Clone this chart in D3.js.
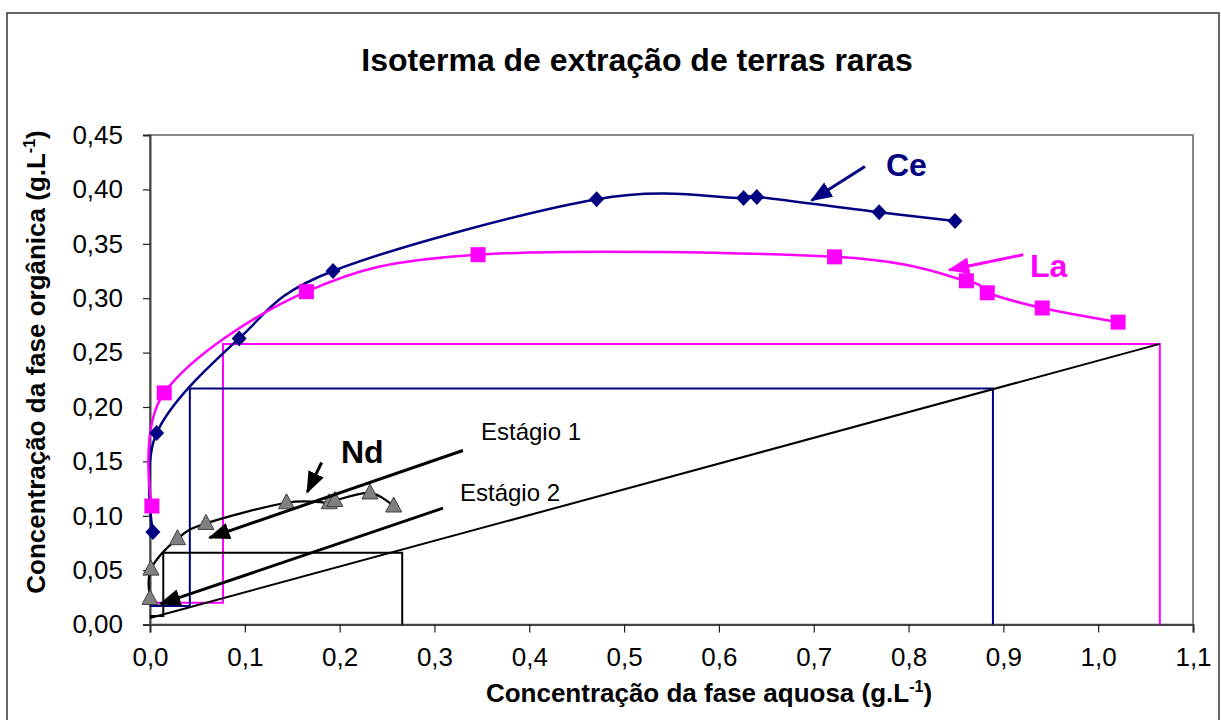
<!DOCTYPE html>
<html><head><meta charset="utf-8">
<script src="https://cdn.jsdelivr.net/npm/d3@7"></script>
<style>body{margin:0;background:#fff}svg{display:block}text{font-family:"Liberation Sans",Arial,sans-serif}</style>
</head><body>
<svg id="c" width="1221" height="720"></svg>
<script>
// ---- data ----
const ceX = [0.003, 0.007, 0.094, 0.193, 0.471, 0.626, 0.640, 0.769, 0.849];
const ceY = [0.085, 0.176, 0.263, 0.325, 0.391, 0.392, 0.393, 0.379, 0.371];
const laX = [0.002, 0.015, 0.165, 0.346, 0.722, 0.861, 0.883, 0.941, 1.021];
const laY = [0.109, 0.213, 0.306, 0.340, 0.338, 0.316, 0.305, 0.291, 0.278];
const ndX = [0.000, 0.001, 0.029, 0.059, 0.144, 0.189, 0.195, 0.232, 0.257];
const ndY = [0.024, 0.051, 0.079, 0.093, 0.112, 0.112, 0.114, 0.121, 0.109];
// operating line
const opX = [0.000, 1.065];
const opY = [0.006, 0.258];
// McCabe-Thiele stage steps
const laStepX = [1.065, 1.065, 0.077, 0.077, 0.000];
const laStepY = [0.000, 0.258, 0.258, 0.020, 0.020];
const ceStepX = [0.889, 0.889, 0.042, 0.042, 0.000];
const ceStepY = [0.000, 0.217, 0.217, 0.017, 0.017];
const ndStepX = [0.266, 0.266, 0.014, 0.014, 0.000];
const ndStepY = [0.000, 0.066, 0.066, 0.008, 0.008];
// annotation arrows [x1,y1,x2(tip),y2(tip)]
const arrowCe = [0.754, 0.421, 0.698, 0.390];
const arrowLa = [0.921, 0.340, 0.843, 0.326];
const arrowNd = [0.181, 0.149, 0.166, 0.122];
const arrowE1 = [0.330, 0.160, 0.063, 0.080];
const arrowE2 = [0.309, 0.107, 0.011, 0.019];
const xTicks = [0,0.1,0.2,0.3,0.4,0.5,0.6,0.7,0.8,0.9,1.0,1.1];
const yTicks = [0,0.05,0.10,0.15,0.20,0.25,0.30,0.35,0.40,0.45];

const svg = d3.select("#c");
const L=150, R=1193, T=135, B=624.6;
const x = d3.scaleLinear().domain([0,1.1]).range([L,R]);
const y = d3.scaleLinear().domain([0,0.45]).range([B,T]);

// outer border
svg.append("rect").attr("x",7).attr("y",13).attr("width",1212).attr("height",720)
  .attr("fill","none").attr("stroke","#333").attr("stroke-width",1.5);

// title
svg.append("text").attr("x",637).attr("y",71).attr("text-anchor","middle")
  .attr("font-size",32).attr("font-weight","bold").text("Isoterma de extração de terras raras");

// plot border
svg.append("rect").attr("x",L).attr("y",T).attr("width",R-L).attr("height",B-T)
  .attr("fill","none").attr("stroke","#888").attr("stroke-width",2);

// axes
const fmtY = d=>d3.format(".2f")(d).replace(".",",");
const fmtX = d=>d3.format(".1f")(d).replace(".",",");
const gy = svg.append("g").attr("transform",`translate(${L},0)`)
  .call(d3.axisLeft(y).tickValues(yTicks).tickFormat(fmtY).tickSize(7).tickPadding(20));
const gx = svg.append("g").attr("transform",`translate(0,${B})`)
  .call(d3.axisBottom(x).tickValues(xTicks).tickFormat(fmtX).tickSize(8).tickPadding(15));
[gx,gy].forEach(g=>{
  g.select(".domain").attr("stroke","#444").attr("stroke-width",2);
  g.selectAll(".tick line").attr("stroke","#222").attr("stroke-width",1.2);
  g.selectAll(".tick text").attr("font-size",26).attr("fill","#000")
    .style("font-family","'Liberation Sans',Arial,sans-serif");
});

// axis titles
const xt = svg.append("text").attr("x",709).attr("y",702).attr("text-anchor","middle")
  .attr("font-size",26).attr("font-weight","bold");
xt.append("tspan").text("Concentração da fase aquosa (g.L");
xt.append("tspan").attr("font-size",16).attr("dy",-10).text("-1");
xt.append("tspan").attr("dy",10).text(")");
const yt = svg.append("text").attr("transform","translate(45,362) rotate(-90)").attr("text-anchor","middle")
  .attr("font-size",26).attr("font-weight","bold");
yt.append("tspan").text("Concentração da fase orgânica (g.L");
yt.append("tspan").attr("font-size",16).attr("dy",-10).text("-1");
yt.append("tspan").attr("dy",10).text(")");

const zip = (a,b)=>a.map((v,i)=>[v,b[i]]);
const straight = d3.line().x(d=>x(d[0])).y(d=>y(d[1]));
const smooth = d3.line().x(d=>x(d[0])).y(d=>y(d[1])).curve(d3.curveCardinal.tension(0));

// steps and operating line
svg.append("path").attr("d",straight(zip(laStepX,laStepY))).attr("fill","none").attr("stroke","#ff00ff").attr("stroke-width",2);
svg.append("path").attr("d",straight(zip(ceStepX,ceStepY))).attr("fill","none").attr("stroke","#000080").attr("stroke-width",2);
svg.append("path").attr("d",straight(zip(ndStepX,ndStepY))).attr("fill","none").attr("stroke","#000").attr("stroke-width",2);
svg.append("path").attr("d",straight(zip(opX,opY))).attr("fill","none").attr("stroke","#000").attr("stroke-width",2);

// curves
svg.append("path").attr("d",smooth(zip(ndX,ndY))).attr("fill","none").attr("stroke","#000").attr("stroke-width",2.2);
svg.append("path").attr("d",smooth(zip(ceX,ceY))).attr("fill","none").attr("stroke","#000080").attr("stroke-width",2.5);
svg.append("path").attr("d",smooth(zip(laX,laY))).attr("fill","none").attr("stroke","#ff00ff").attr("stroke-width",2.5);

// markers
svg.append("g").selectAll("path").data(zip(ceX,ceY)).join("path")
  .attr("d","M0,-8L7.5,0L0,8L-7.5,0Z").attr("transform",d=>`translate(${x(d[0])},${y(d[1])})`)
  .attr("fill","#000080");
svg.append("g").selectAll("rect").data(zip(laX,laY)).join("rect")
  .attr("x",d=>x(d[0])-7.5).attr("y",d=>y(d[1])-7.5).attr("width",15).attr("height",15)
  .attr("fill","#ff00ff");
svg.append("g").selectAll("path").data(zip(ndX,ndY)).join("path")
  .attr("d","M0,-9L8,6L-8,6Z").attr("transform",d=>`translate(${x(d[0])},${y(d[1])})`)
  .attr("fill","#808080").attr("stroke","#404040").attr("stroke-width",1);

// arrows
const defs = svg.append("defs");
[["ah-k","#000"],["ah-b","#000080"],["ah-m","#ff00ff"]].forEach(([id,c])=>{
  defs.append("marker").attr("id",id).attr("markerUnits","userSpaceOnUse")
    .attr("viewBox","0 0 22 17").attr("refX",20).attr("refY",8.5)
    .attr("markerWidth",22).attr("markerHeight",17).attr("orient","auto")
    .append("path").attr("d","M0,0L22,8.5L0,17Z").attr("fill",c);
});
function arrow(a,color,mk){
  svg.append("line").attr("x1",x(a[0])).attr("y1",y(a[1])).attr("x2",x(a[2])).attr("y2",y(a[3]))
    .attr("stroke",color).attr("stroke-width",3).attr("marker-end",`url(#${mk})`);
}
arrow(arrowCe,"#000080","ah-b");
arrow(arrowLa,"#ff00ff","ah-m");
arrow(arrowNd,"#000","ah-k");
arrow(arrowE1,"#000","ah-k");
arrow(arrowE2,"#000","ah-k");

// labels
svg.append("text").attr("x",886).attr("y",176).attr("font-size",32).attr("font-weight","bold").attr("fill","#000080").text("Ce");
svg.append("text").attr("x",1030).attr("y",277).attr("font-size",32).attr("font-weight","bold").attr("fill","#ff00ff").text("La");
svg.append("text").attr("x",341).attr("y",463).attr("font-size",32).attr("font-weight","bold").attr("fill","#000").text("Nd");
svg.append("text").attr("x",481).attr("y",440).attr("font-size",24).attr("fill","#000").text("Estágio 1");
svg.append("text").attr("x",460).attr("y",501).attr("font-size",24).attr("fill","#000").text("Estágio 2");
</script>
</body></html>
